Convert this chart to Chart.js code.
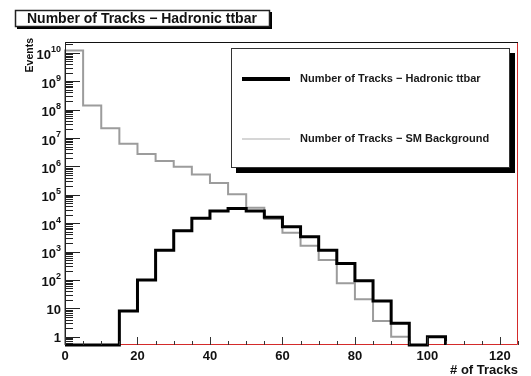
<!DOCTYPE html>
<html>
<head>
<meta charset="utf-8">
<script src="https://cdn.jsdelivr.net/npm/chart.js@4/dist/chart.umd.min.js"></script>
<style>
  html, body { margin: 0; padding: 0; background: #fff; }
  #wrap { width: 531px; height: 376px; position: relative; }
</style>
</head>
<body>
<div id="wrap"><canvas id="c" width="531" height="376"></canvas></div>
<script>
// Histogram binning: 25 bins of width 5 from 0 to 125 tracks
const binLowEdges = [0, 5, 10, 15, 20, 25, 30, 35, 40, 45, 50, 55, 60, 65, 70, 75, 80, 85, 90, 95, 100, 105, 110, 115, 120];
const binWidth = 5;

// Events per bin
const ttbarCounts = [0, 0, 0, 8, 100, 1100, 5400, 15000, 27000, 33000, 27000, 16000, 7500, 3300, 1100, 380, 94, 18, 3, 0, 1, 0, 0, 0, 0];
const smBackgroundCounts = [1.2e10, 1.4e8, 2.2e7, 6.2e6, 2.7e6, 1.55e6, 9.7e5, 5.2e5, 2.6e5, 1.05e5, 3.5e4, 1.4e4, 4600, 1600, 500, 76, 21, 3.6, 1, 0, 0, 0, 0, 0, 0];

const seriesLabels = ['Number of Tracks \u2212 Hadronic ttbar', 'Number of Tracks \u2212 SM Background'];
const titleText = 'Number of Tracks \u2212 Hadronic ttbar';
const xAxisTitle = '# of Tracks';
const yAxisTitle = 'Events';

const xTickLabels = [0, 20, 40, 60, 80, 100, 120];
const yDecades = [0, 1, 2, 3, 4, 5, 6, 7, 8, 9, 10];
const xRange = [0, 125];
const yRange = [0.51, 2.4e10];

const FONT = '"Liberation Sans", Arial, Helvetica, sans-serif';

// Build step outline points for a histogram; empty bins sit on the frame bottom
function histogramPoints(counts) {
  const base = yRange[0];
  let last = counts.length - 1;
  while (last >= 0 && counts[last] <= 0) last--;
  const pts = [{ x: binLowEdges[0], y: base }];
  for (let i = 0; i <= last; i++) {
    pts.push({ x: binLowEdges[i], y: counts[i] > 0 ? counts[i] : base });
  }
  const hi = binLowEdges[last] + binWidth;
  pts.push({ x: hi, y: counts[last] });
  pts.push({ x: hi, y: base });
  return pts;
}

const frameColor = '#d42a2a';

const rootStylePlugin = {
  id: 'rootStyle',
  beforeDatasetsDraw(chart) {
    const { ctx, chartArea: a } = chart;
    ctx.save();
    ctx.lineWidth = 1;
    ctx.strokeStyle = '#111';
    ctx.beginPath();
    ctx.moveTo(a.left, a.top + 0.5);
    ctx.lineTo(a.right, a.top + 0.5);
    ctx.stroke();
    ctx.strokeStyle = frameColor;
    ctx.beginPath();
    ctx.moveTo(a.left, a.bottom - 0.5);
    ctx.lineTo(a.right - 0.5, a.bottom - 0.5);
    ctx.lineTo(a.right - 0.5, a.top + 1);
    ctx.stroke();
    ctx.restore();
  },
  afterDatasetsDraw(chart) {
    const { ctx, chartArea: a, scales } = chart;
    const xs = scales.x, ys = scales.y;
    ctx.save();

    // y axis line
    ctx.strokeStyle = '#222';
    ctx.lineWidth = 1;
    ctx.beginPath();
    ctx.moveTo(a.left + 0.5, a.top);
    ctx.lineTo(a.left + 0.5, a.bottom);
    ctx.stroke();

    // y ticks (log): decades long, 2..9 short, drawn inward
    ctx.beginPath();
    for (let d = -1; d <= 10; d++) {
      for (let m = 1; m <= 9; m++) {
        const v = m * Math.pow(10, d);
        if (v < yRange[0] || v > yRange[1]) continue;
        const py = Math.round(ys.getPixelForValue(v)) + 0.5;
        const len = m === 1 ? 15 : 8;
        ctx.moveTo(a.left, py);
        ctx.lineTo(a.left + len, py);
      }
    }
    ctx.stroke();

    // x ticks, drawn upward from the bottom
    ctx.strokeStyle = '#333';
    ctx.beginPath();
    for (let v = xRange[0]; v <= xRange[1]; v += 5) {
      const px = Math.round(xs.getPixelForValue(v)) + 0.5;
      const len = v % 20 === 0 ? 8 : 4;
      ctx.moveTo(px, a.bottom);
      ctx.lineTo(px, a.bottom - len);
    }
    ctx.stroke();

    // y tick labels
    ctx.fillStyle = '#111';
    ctx.textAlign = 'right';
    ctx.textBaseline = 'middle';
    yDecades.forEach(d => {
      const py = ys.getPixelForValue(Math.pow(10, d));
      const rx = a.left - 4;
      if (d === 0 || d === 1) {
        ctx.font = 'bold 13px ' + FONT;
        ctx.fillText(d === 0 ? '1' : '10', rx, py + 2);
      } else {
        const sup = String(d);
        ctx.font = 'bold 9px ' + FONT;
        const sw = ctx.measureText(sup).width;
        ctx.fillText(sup, rx, py - 3);
        ctx.font = 'bold 13px ' + FONT;
        ctx.fillText('10', rx - sw, py + 3);
      }
    });

    // x tick labels
    ctx.font = 'bold 13px ' + FONT;
    ctx.textAlign = 'center';
    ctx.textBaseline = 'middle';
    xTickLabels.forEach(v => {
      ctx.fillText(String(v), xs.getPixelForValue(v), a.bottom + 11);
    });

    // axis titles
    ctx.textAlign = 'right';
    ctx.fillText(xAxisTitle, a.right, a.bottom + 25);
    ctx.save();
    ctx.translate(30, 38);
    ctx.rotate(-Math.PI / 2);
    ctx.font = 'bold 10.5px ' + FONT;
    ctx.textAlign = 'right';
    ctx.textBaseline = 'middle';
    ctx.fillText(yAxisTitle, 0, 0);
    ctx.restore();

    // legend box with drop shadow
    const lb = { l: 231, t: 48, r: 510, b: 168 };
    ctx.fillStyle = '#000';
    ctx.fillRect(lb.l + 5, lb.t + 5, lb.r - lb.l, lb.b - lb.t);
    ctx.fillStyle = '#fff';
    ctx.fillRect(lb.l, lb.t, lb.r - lb.l, lb.b - lb.t);
    ctx.strokeStyle = '#333';
    ctx.lineWidth = 1;
    ctx.strokeRect(lb.l + 0.5, lb.t + 0.5, lb.r - lb.l - 1, lb.b - lb.t - 1);

    const items = chart.data.datasets;
    const rowsY = [79, 139];
    items.forEach((ds, i) => {
      const y = rowsY[i];
      ctx.strokeStyle = ds.legendColor;
      ctx.lineWidth = ds.legendWidth;
      ctx.beginPath();
      ctx.moveTo(242, y);
      ctx.lineTo(290, y);
      ctx.stroke();
      ctx.fillStyle = '#1a1a1a';
      ctx.font = 'bold 11px ' + FONT;
      ctx.textAlign = 'left';
      ctx.textBaseline = 'middle';
      ctx.fillText(ds.label, 300, y);
    });

    // title box with drop shadow
    const tb = { l: 15, t: 10, r: 270, b: 27 };
    ctx.fillStyle = '#000';
    ctx.fillRect(tb.l + 2, tb.t + 2, tb.r - tb.l, tb.b - tb.t);
    ctx.fillStyle = '#fff';
    ctx.fillRect(tb.l, tb.t, tb.r - tb.l, tb.b - tb.t);
    ctx.strokeStyle = '#222';
    ctx.strokeRect(tb.l + 0.5, tb.t + 0.5, tb.r - tb.l - 1, tb.b - tb.t - 1);
    ctx.fillStyle = '#111';
    ctx.font = 'bold 14px ' + FONT;
    ctx.textAlign = 'left';
    ctx.textBaseline = 'middle';
    ctx.fillText(titleText, 27, (tb.t + tb.b) / 2 + 0.5);

    ctx.restore();
  }
};

new Chart(document.getElementById('c'), {
  type: 'line',
  data: {
    datasets: [
      {
        label: seriesLabels[0],
        data: histogramPoints(ttbarCounts),
        borderColor: '#000',
        borderWidth: 3,
        legendColor: '#000',
        legendWidth: 4,
        order: 0
      },
      {
        label: seriesLabels[1],
        data: histogramPoints(smBackgroundCounts),
        borderColor: '#9c9c9c',
        borderWidth: 2,
        legendColor: '#c8c8c8',
        legendWidth: 1.5,
        order: 1
      }
    ]
  },
  options: {
    responsive: false,
    animation: false,
    devicePixelRatio: 1,
    layout: { padding: { left: 65, right: 13, top: 42, bottom: 31 } },
    elements: { point: { radius: 0 }, line: { tension: 0, fill: false } },
    datasets: { line: { stepped: 'before', clip: false, pointRadius: 0 } },
    scales: {
      x: { type: 'linear', min: xRange[0], max: xRange[1], display: false },
      y: { type: 'logarithmic', min: yRange[0], max: yRange[1], display: false }
    },
    plugins: { legend: { display: false }, tooltip: { enabled: false }, title: { display: false } }
  },
  plugins: [rootStylePlugin]
});
</script>
</body>
</html>
